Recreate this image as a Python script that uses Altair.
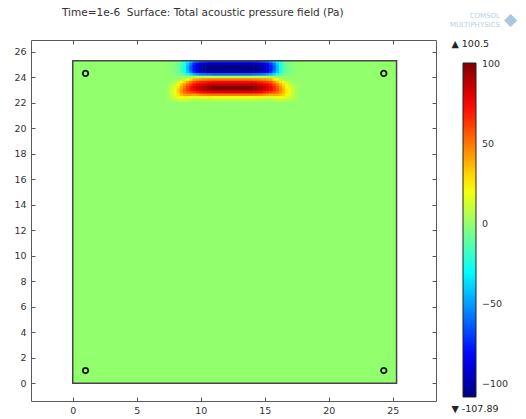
import altair as alt
import pandas as pd

# ---- text ----
title_text = "Time=1e-6\u00a0\u00a0Surface: Total acoustic pressure field (Pa)"

# ---- colour range of the surface plot (Pa) ----
p_max = 100.5
p_min = -107.89
legend_values = [100, 50, 0, -50, -100]

# ---- geometry (mm) ----
plate_size = 25.3
hole_x = [1.0, 24.3, 1.0, 24.3]
hole_y = [1.0, 1.0, 24.3, 24.3]

x_ticks = [0, 5, 10, 15, 20, 25]
y_ticks = [0, 2, 4, 6, 8, 10, 12, 14, 16, 18, 20, 22, 24, 26]

# ---- pressure field near the transducer (Pa), sampled on cell centres ----
# fine cells at the two ends of the pulse, one wide cell across the flat middle
cols_x = [7.5, 7.75, 8.0, 8.25, 8.5, 8.75, 9.0, 9.25, 9.5, 9.75, 10.0, 10.25, 10.5, 10.75,
          12.5,
          14.25, 14.5, 14.75, 15.0, 15.25, 15.5, 15.75, 16.0, 16.25, 16.5, 16.75, 17.0, 17.25, 17.5]
cols_w = [0.25] * 14 + [3.25] + [0.25] * 14
rows_y = [25.2, 25.0, 24.8, 24.6, 24.4, 24.2, 24.0, 23.8,
          23.6, 23.4, 23.2, 23.0, 22.8, 22.6, 22.4, 22.2]
row_h = 0.2

p_y252 = [-1, -1, -3, -6, -11, -20, -32, -45, -58, -65, -71, -73, -76, -76, -77, -76, -75, -72, -69, -63, -55, -45, -31, -19, -10, -5, -3, -1, -1]
p_y250 = [-1, -2, -4, -7, -14, -26, -41, -58, -74, -83, -90, -94, -97, -98, -98, -98, -96, -92, -88, -81, -71, -57, -40, -24, -13, -6, -4, -2, -1]
p_y248 = [-1, -2, -4, -8, -15, -28, -45, -63, -80, -90, -98, -102, -105, -106, -107.89, -106, -104, -100, -96, -88, -77, -62, -43, -26, -14, -7, -4, -2, -1]
p_y246 = [-1, -2, -4, -8, -15, -28, -45, -63, -80, -90, -98, -102, -105, -106, -106, -106, -104, -100, -96, -88, -77, -62, -43, -26, -14, -7, -4, -2, -1]
p_y244 = [-1, -2, -4, -7, -14, -26, -42, -59, -74, -84, -91, -95, -98, -99, -100, -99, -97, -93, -89, -82, -72, -58, -40, -24, -13, -7, -4, -2, -1]
p_y242 = [-1, -1, -2, -4, -8, -16, -25, -35, -45, -50, -55, -57, -59, -59, -60, -59, -58, -56, -54, -49, -43, -35, -24, -15, -8, -4, -2, -1, -1]
p_y240 = [0, 0, 0, 0, 0, 1, 3, 4, 6, 7, 7, 7, 8, 8, 8, 8, 8, 7, 7, 7, 6, 4, 2, 1, 0, 0, 0, 0, 0]
p_y238 = [0, 0, 1, 2, 4, 10, 19, 29, 40, 43, 45, 47, 48, 49, 50, 49, 48, 46, 44, 42, 39, 27, 17, 9, 3, 2, 1, 0, 0]
p_y236 = [0, 2, 6, 13, 23, 31, 41, 50, 59, 64, 67, 69, 71, 73, 74, 73, 70, 68, 65, 61, 57, 47, 37, 27, 19, 11, 5, 2, 0]
p_y234 = [3, 6, 12, 22, 33, 44, 54, 63, 71, 77, 80, 83, 85, 87, 89, 87, 85, 82, 78, 74, 69, 59, 49, 38, 28, 18, 11, 6, 3]
p_y232 = [4, 9, 16, 27, 40, 51, 62, 71, 78, 84, 88, 91, 94, 96, 100.5, 96, 93, 90, 86, 81, 75, 66, 56, 45, 34, 23, 15, 8, 4]
p_y230 = [4, 10, 19, 31, 44, 55, 64, 71, 77, 83, 86, 89, 92, 94, 96, 94, 91, 88, 84, 80, 74, 67, 58, 48, 37, 26, 17, 9, 4]
p_y228 = [5, 11, 19, 31, 43, 52, 58, 62, 64, 69, 72, 74, 77, 78, 80, 78, 76, 74, 70, 66, 62, 58, 53, 45, 36, 26, 17, 10, 5]
p_y226 = [5, 10, 18, 27, 36, 41, 43, 43, 40, 43, 45, 47, 48, 49, 50, 49, 48, 46, 44, 42, 39, 40, 39, 36, 30, 23, 16, 9, 5]
p_y224 = [4, 8, 13, 18, 23, 24, 24, 21, 18, 19, 20, 20, 21, 22, 22, 22, 21, 20, 19, 18, 17, 20, 22, 21, 19, 16, 12, 7, 4]
p_y222 = [3, 5, 7, 9, 10, 10, 9, 7, 5, 5, 5, 6, 6, 6, 6, 6, 6, 6, 5, 5, 5, 7, 8, 9, 8, 8, 6, 4, 3]

field_rows = [p_y252, p_y250, p_y248, p_y246, p_y244, p_y242, p_y240, p_y238,
              p_y236, p_y234, p_y232, p_y230, p_y228, p_y226, p_y224, p_y222]

# cells overlap a hair so no background seams show between neighbours
overlap = 0.02
records = []
for yc, row in zip(rows_y, field_rows):
    assert len(row) == len(cols_x)
    for xc, w, p in zip(cols_x, cols_w, row):
        y_top = min(yc + row_h / 2 + overlap, plate_size)
        records.append({"x0": xc - w / 2 - overlap, "x1": xc + w / 2 + overlap,
                        "y0": yc - row_h / 2 - overlap, "y1": y_top, "p": p})
field_df = pd.DataFrame(records)

plate_df = pd.DataFrame({"x0": [0.0], "x1": [plate_size], "y0": [0.0], "y1": [plate_size], "p": [0.0]})
holes_df = pd.DataFrame({"x": hole_x, "y": hole_y})

# ---- scales ----
span = p_max - p_min
jet_stops = [p_min, p_min + 0.125 * span, p_min + 0.375 * span,
             p_min + 0.625 * span, p_min + 0.875 * span, p_max]
jet_colors = ["#000080", "#0000ff", "#00ffff", "#ffff00", "#ff0000", "#800000"]
color_scale = alt.Scale(type="linear", domain=jet_stops, range=jet_colors, interpolate="rgb")

x_scale = alt.Scale(domain=[-3.26, 28.38], nice=False, zero=False)
y_scale = alt.Scale(domain=[-1.39, 26.92], nice=False, zero=False)

FONT = "DejaVu Sans"
TXT = "#333333"
TICK = "#555555"

ax_bottom = alt.Axis(orient="bottom", values=x_ticks, offset=-4, tickSize=4, domain=False, grid=False,
                     labelPadding=4, title=None, labelFont=FONT, labelFontSize=9.5, labelColor=TXT,
                     tickColor=TICK)
ax_top = alt.Axis(orient="top", values=x_ticks, offset=-4, tickSize=4, domain=False, grid=False,
                  labels=False, title=None, tickColor=TICK)
ax_left = alt.Axis(orient="left", values=y_ticks, offset=-4, tickSize=4, domain=False, grid=False,
                   labelPadding=5, title=None, labelFont=FONT, labelFontSize=9.5, labelColor=TXT,
                   tickColor=TICK)
ax_right = alt.Axis(orient="right", values=y_ticks, offset=-4, tickSize=4, domain=False, grid=False,
                    labels=False, title=None, tickColor=TICK)

legend = alt.Legend(type="gradient", orient="none", legendX=432, legendY=23, direction="vertical",
                    title=None, gradientLength=334, gradientThickness=13, values=legend_values,
                    labelFont=FONT, labelFontSize=9.5, labelColor=TXT, labelOffset=6,
                    gradientStrokeColor="#222222", gradientStrokeWidth=1, padding=0)

# plate surface at rest pressure (carries the colour bar)
plate = alt.Chart(plate_df).mark_rect().encode(
    x=alt.X("x0:Q", scale=x_scale, axis=ax_bottom),
    x2="x1:Q",
    y=alt.Y("y0:Q", scale=y_scale, axis=ax_left),
    y2="y1:Q",
    color=alt.Color("p:Q", scale=color_scale, legend=legend),
)

# pressure pulse below the transducer
field = alt.Chart(field_df).mark_rect().encode(
    x=alt.X("x0:Q", scale=x_scale, axis=None),
    x2="x1:Q",
    y=alt.Y("y0:Q", scale=y_scale, axis=None),
    y2="y1:Q",
    color=alt.Color("p:Q", scale=color_scale, legend=legend),
)

outline = alt.Chart(plate_df).mark_rect(fillOpacity=0, stroke="#454545", strokeWidth=1.5).encode(
    x=alt.X("x0:Q", scale=x_scale, axis=None),
    x2="x1:Q",
    y=alt.Y("y0:Q", scale=y_scale, axis=None),
    y2="y1:Q",
)

holes = alt.Chart(holes_df).mark_point(shape="circle", filled=False, size=30, strokeWidth=1.8,
                                       color="#111111", opacity=1).encode(
    x=alt.X("x:Q", scale=x_scale, axis=ax_top),
    y=alt.Y("y:Q", scale=y_scale, axis=ax_right),
)

title = alt.Chart(pd.DataFrame({"t": [title_text]})).mark_text(
    align="left", baseline="middle", font=FONT, fontSize=10.5, color=TXT
).encode(text="t:N", x=alt.value(31), y=alt.value(-27))

extremes = alt.Chart(pd.DataFrame({
    "t": [f"\u25b2 {p_max}", f"\u25bc {p_min}"],
    "py": [3.5, 368.5],
})).mark_text(align="left", baseline="middle", font=FONT, fontSize=9.5, color="#222222").encode(
    text="t:N", x=alt.value(420.5), y=alt.Y("py:Q", scale=None, axis=None)
)

logo = alt.Chart(pd.DataFrame({
    "t": ["COMSOL", "MULTIPHYSICS"],
    "px": [469, 469],
    "py": [-24.5, -15.5],
})).mark_text(align="right", baseline="middle", font=FONT, fontSize=7, color="#b9cfe4").encode(
    text="t:N", x=alt.X("px:Q", scale=None, axis=None), y=alt.Y("py:Q", scale=None, axis=None)
)
logo_box = alt.Chart(pd.DataFrame({"t": ["\u25c6"]})).mark_text(
    align="left", baseline="middle", font=FONT, fontSize=17, color="#a9c7e3"
).encode(text="t:N", x=alt.value(473), y=alt.value(-20))

chart = alt.layer(plate, field, outline, holes, title, extremes, logo, logo_box).resolve_axis(
    x="independent", y="independent"
).properties(
    width=405, height=361,
    autosize=alt.AutoSizeParams(type="none"),
    padding={"left": 31, "top": 40, "right": 90, "bottom": 18},
    background="white",
).configure_view(stroke="#5a5a5a", strokeWidth=1)

chart.save("out.html", embed_options={"renderer": "svg", "actions": False})
